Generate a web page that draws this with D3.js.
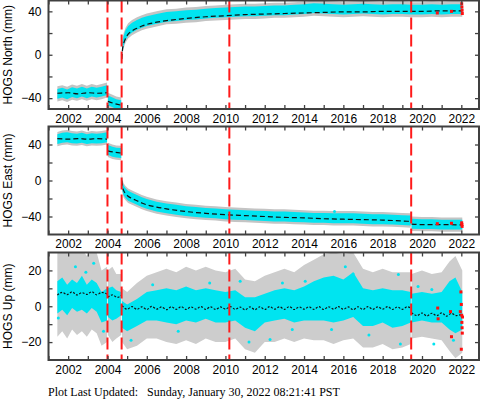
<!DOCTYPE html>
<html>
<head>
<meta charset="utf-8">
<script src="https://cdn.jsdelivr.net/npm/d3@7"></script>
<style>
body { margin: 0; background: #fff; }
svg { display: block; }
</style>
</head>
<body>
<svg id="chart" width="481" height="400"></svg>
<script>
// decimal years of the offsets (red dashed lines)
var offsetYears = [2004.0, 2004.72, 2010.2, 2019.45];
var yearTicks = [2001, 2002, 2003, 2004, 2005, 2006, 2007, 2008, 2009, 2010, 2011,
                 2012, 2013, 2014, 2015, 2016, 2017, 2018, 2019, 2020, 2021, 2022];

// North: observed positions (segments) and model, mm
var northObs = [
    [[2001.45,-36],[2001.7,-35],[2001.95,-36.5],[2002.2,-34.5],[2002.45,-35.5],[2002.7,-34],[2002.95,-35.5],
     [2003.2,-34],[2003.45,-35],[2003.7,-34],[2003.98,-32.5]],
    [[2004.02,-42],[2004.2,-43.5],[2004.45,-45.5],[2004.7,-46.5]],
    [[2004.73,-6],[2004.76,6],[2004.82,13],[2004.92,18],[2005.05,22],[2005.25,25],[2005.5,27.5],[2005.75,29.5],
     [2006.0,31],[2006.5,33],[2007.0,35],[2007.5,35.5],[2008.0,36.5],[2008.5,37],[2009.0,38],[2009.5,38.5],
     [2010.0,39],[2010.5,39.5],[2011.0,40],[2011.5,40],[2012.0,40.5],[2012.5,41],[2013.0,41],[2013.5,41.5],
     [2014.0,42],[2014.5,43],[2015.0,42.5],[2015.5,42],[2016.0,41.5],[2016.5,42],[2017.0,42.5],[2017.5,42],
     [2018.0,41.5],[2018.5,42],[2019.0,42],[2019.5,41.5],[2020.0,41.5],[2020.5,42],[2021.0,41.5],[2021.5,42],
     [2022.05,42]]
];
var northModel = [
    [[2001.45,-35.5],[2002.0,-35],[2002.5,-36],[2003.0,-35],[2003.5,-35.5],[2003.98,-35]],
    [[2004.02,-43],[2004.35,-45],[2004.7,-46.5]],
    [[2004.73,-4],[2004.76,4],[2004.82,10],[2004.92,15],[2005.05,19],[2005.25,22],[2005.5,24.5],[2005.75,26.5],
     [2006.0,28],[2006.5,30],[2007.0,31.5],[2007.5,32.5],[2008.0,33.5],[2009.0,35],[2010.0,36],[2011.0,37],
     [2012.0,37.5],[2013.0,38],[2014.0,38.5],[2015.0,39],[2016.0,39.5],[2017.0,39.5],[2018.0,40],[2019.0,40],
     [2020.0,40],[2021.0,40.5],[2022.05,40.5]]
];
var northCyanErr = 4.5, northGrayErr = 7;
var northRed = [[2020.78,38.5],[2021.5,40],[2022.02,47],[2022.03,44],[2022.04,41],[2022.05,38]];
var northStray = [];

// East
var eastObs = [
    [[2001.45,46],[2001.7,47.5],[2001.95,48],[2002.2,47],[2002.45,46.5],[2002.7,47.5],[2002.95,46],
     [2003.2,47],[2003.45,46.5],[2003.7,47],[2003.98,48]],
    [[2004.02,34],[2004.25,32],[2004.45,31],[2004.7,30.5]],
    [[2004.73,1],[2004.76,-6],[2004.82,-11],[2004.92,-14],[2005.05,-17],[2005.25,-19],[2005.5,-21.5],[2005.75,-24],
     [2006.0,-26],[2006.5,-29],[2007.0,-31],[2007.5,-32.5],[2008.0,-34],[2008.5,-35],[2009.0,-36],[2009.5,-36.5],
     [2010.0,-37.5],[2010.5,-38],[2011.0,-38.5],[2011.5,-39],[2012.0,-39.5],[2012.5,-40],[2013.0,-40],[2013.5,-40.5],
     [2014.0,-41],[2014.5,-41.5],[2015.0,-41.5],[2015.5,-42],[2016.0,-42],[2016.5,-42],[2017.0,-42.5],[2017.5,-43],
     [2018.0,-43],[2018.5,-43.5],[2019.0,-44],[2019.43,-44.5]],
    [[2019.47,-48],[2020.0,-48.5],[2020.5,-48.5],[2021.0,-49],[2021.5,-49],[2022.05,-49]]
];
var eastModel = [
    [[2001.45,46.5],[2002.0,46],[2002.5,46.5],[2003.0,46],[2003.5,46.5],[2003.98,46]],
    [[2004.02,33],[2004.35,31.5],[2004.7,30.5]],
    [[2004.73,0],[2004.76,-6],[2004.82,-11],[2004.92,-14.5],[2005.05,-17.5],[2005.25,-20],[2005.5,-22.5],
     [2005.75,-25],[2006.0,-27],[2006.5,-29.5],[2007.0,-31.5],[2008.0,-34.5],[2009.0,-36.5],[2010.0,-38],
     [2011.0,-39],[2012.0,-40],[2013.0,-41],[2014.0,-41.5],[2015.0,-42.5],[2016.0,-43],[2017.0,-43.5],
     [2018.0,-44],[2019.0,-45],[2019.43,-45.5]],
    [[2019.47,-48.5],[2020.0,-49],[2021.0,-49],[2022.05,-49.5]]
];
var eastCyanErr = 5.5, eastGrayErr = 8;
var eastRed = [[2020.78,-48],[2021.5,-47.5],[2022.02,-47],[2022.03,-49],[2022.04,-51]];
var eastStray = [[2015.55,-34.5]];

// Up: spread of the daily solutions, rows of [year, grayLo, cyanLo, cyanHi, grayHi]
var upSpread = [
    [[2001.45,-17,-4,14,32],[2001.7,-14,-2,16,32],[2001.95,-18,-5,12,30],[2002.2,-13,-1,15,32],
     [2002.45,-16,-3,13,32],[2002.7,-14,-2,17,32],[2002.95,-17,-4,12,28],[2003.2,-13,-1,15,32],
     [2003.45,-15,-3,13,30],[2003.7,-22,-9,8,20],[2003.98,-20,-8,10,22]],
    [[2004.02,-16,-6,10,20],[2004.25,-20,-8,11,22],[2004.45,-18,-7,9,18],[2004.7,-16,-5,8,18]],
    [[2004.74,-20,-12,3,10],[2005.0,-24,-14,1,8],[2005.5,-22,-11,4,13],[2006.0,-18,-8,8,17],
     [2006.5,-18,-8,9,19],[2007.0,-20,-9,10,21],[2007.5,-21,-10,9,19],[2008.0,-19,-8,11,22],
     [2008.5,-21,-9,9,20],[2009.0,-18,-7,10,22],[2009.5,-20,-9,9,20],[2010.0,-20,-9,8,19],
     [2010.5,-18,-8,9,21],[2011.0,-24,-12,5,15],[2011.5,-26,-14,5,14],[2012.0,-20,-9,7,17],
     [2012.5,-20,-8,9,19],[2013.0,-18,-7,10,21],[2013.5,-20,-9,9,19],[2014.0,-18,-8,11,23],
     [2014.5,-19,-8,14,26],[2015.0,-19,-8,16,29],[2015.5,-21,-9,17,30],[2016.0,-19,-8,15,29],
     [2016.5,-18,-6,19,30],[2017.0,-23,-11,10,21],[2017.5,-23,-11,9,19],[2018.0,-21,-9,10,21],
     [2018.5,-24,-12,9,19],[2019.0,-23,-11,9,19],[2019.43,-21,-9,8,19]],
    [[2019.47,-18,-9,7,18],[2020.0,-17,-8,8,20],[2020.5,-18,-9,7,18],[2021.0,-19,-9,8,19],
     [2021.4,-25,-13,14,25],[2021.7,-29,-15,16,28],[2022.05,-26,-13,8,20]]
];
var upModel = [
    [[2001.45,6.2],[2001.7,7.8],[2001.95,6.5],[2002.2,8.0],[2002.45,6.3],[2002.7,7.6],[2002.95,6.6],
     [2003.2,8.1],[2003.45,6.4],[2003.7,7.7],[2003.98,6.8]],
    [[2004.02,5.0],[2004.25,6.3],[2004.5,5.0],[2004.7,6.0]],
    [[2004.74,0.3],[2005.0,-1.6],[2005.25,-0.2],[2005.5,-1.7],[2005.75,-0.3],[2006.0,-1.8],[2006.25,-0.1],
     [2006.5,-1.6],[2006.75,-0.4],[2007.0,-1.9],[2007.25,-0.3],[2007.5,-1.7],[2007.75,-0.2],[2008.0,-1.8],
     [2008.25,-0.4],[2008.5,-1.6],[2008.75,-0.2],[2009.0,-1.7],[2009.25,-0.3],[2009.5,-1.8],[2009.75,-0.4],
     [2010.0,-1.6],[2010.25,-0.2],[2010.5,-1.7],[2010.75,-0.5],[2011.0,-2.0],[2011.25,-0.4],[2011.5,-1.9],
     [2011.75,-0.3],[2012.0,-1.8],[2012.25,-0.2],[2012.5,-1.6],[2012.75,-0.3],[2013.0,-1.7],[2013.25,-0.2],
     [2013.5,-1.8],[2013.75,-0.4],[2014.0,-1.6],[2014.25,-0.3],[2014.5,-1.7],[2014.75,-0.2],[2015.0,-1.8],
     [2015.25,-0.3],[2015.5,-1.6],[2015.75,-0.2],[2016.0,-1.7],[2016.25,-0.4],[2016.5,-1.9],[2016.75,-0.3],
     [2017.0,-1.8],[2017.25,-0.2],[2017.5,-1.7],[2017.75,-0.3],[2018.0,-1.6],[2018.25,-0.2],[2018.5,-1.8],
     [2018.75,-0.4],[2019.0,-1.7],[2019.25,-0.3],[2019.43,-1.2]],
    [[2019.47,-3.6],[2019.75,-5.2],[2020.0,-3.8],[2020.25,-5.4],[2020.5,-3.9],[2020.75,-5.3],[2021.0,-3.7],
     [2021.25,-5.5],[2021.5,-4.0],[2021.75,-5.2],[2022.05,-4.4]]
];
var upRed = [[2020.8,-1],[2020.82,-7],[2021.45,-3],[2021.5,-17],[2021.95,-3],[2021.98,8],[2022.0,1],
             [2022.0,-24],[2022.02,-5],[2022.03,-9],[2022.04,-12],[2022.05,-15],[2022.06,-6]];
var upStray = [[2002.37,22],[2001.5,-6.5],[2003.3,24],[2005.2,-19],[2010.75,14],[2012.27,-18.6],
               [2012.9,13],[2014.06,14],[2015.4,-13],[2016.5,18],[2018.8,17.7],[2018.9,-21],
               [2020.5,9.3],[2020.6,-21],[2021.6,-19],[2002.9,19],[2003.8,-14],[2006.3,12],
               [2007.6,-14],[2009.2,13],[2011.2,-20],[2013.4,-13],[2016.1,22],[2017.3,-16],[2019.8,11]];

var footerText = "Plot Last Updated:   Sunday, January 30, 2022 08:21:41 PST";

var svg = d3.select("#chart");
var font = "'Liberation Sans', Arial, Helvetica, sans-serif";
var frameColor = "#404040";

var x = d3.scaleLinear().domain([2001, 2022.9]).range([48.5, 479]);

var panels = [
    { id: "n", label: "HOGS North (mm)", domain: [-50, 50], range: [109, 0.5], step: 20, labelEvery: 40,
      obs: northObs, model: northModel, cyanErr: northCyanErr, grayErr: northGrayErr,
      red: northRed, stray: northStray, dash: "5,3" },
    { id: "e", label: "HOGS East (mm)", domain: [-60, 60], range: [234.5, 126.5], step: 20, labelEvery: 40,
      obs: eastObs, model: eastModel, cyanErr: eastCyanErr, grayErr: eastGrayErr,
      red: eastRed, stray: eastStray, dash: "5,3" },
    { id: "u", label: "HOGS Up (mm)", domain: [-30, 30], range: [360, 252.5], step: 10, labelEvery: 20,
      spread: upSpread, model: upModel, red: upRed, stray: upStray, dash: "2,1.6" }
];

panels.forEach(function(p) {
    var y = d3.scaleLinear().domain(p.domain).range(p.range);
    var top = p.range[1], bottom = p.range[0];
    var left = x.range()[0], right = x.range()[1];

    svg.append("clipPath").attr("id", "clip-" + p.id)
        .append("rect")
        .attr("x", left).attr("y", top)
        .attr("width", right - left).attr("height", bottom - top);

    var g = svg.append("g").attr("clip-path", "url(#clip-" + p.id + ")");

    if (p.obs) {
        var band = function(err) {
            return d3.area()
                .x(function(d) { return x(d[0]); })
                .y0(function(d) { return y(d[1] - err); })
                .y1(function(d) { return y(d[1] + err); });
        };
        g.selectAll("path.gray").data(p.obs).join("path")
            .attr("class", "gray")
            .attr("d", band(p.grayErr))
            .attr("fill", "#c4c4c4");
        g.selectAll("path.cyan").data(p.obs).join("path")
            .attr("class", "cyan")
            .attr("d", band(p.cyanErr))
            .attr("fill", "#00e4f0");
    } else {
        var spreadArea = function(lo, hi) {
            return d3.area()
                .x(function(d) { return x(d[0]); })
                .y0(function(d) { return y(d[lo]); })
                .y1(function(d) { return y(d[hi]); });
        };
        g.selectAll("path.gray").data(p.spread).join("path")
            .attr("class", "gray")
            .attr("d", spreadArea(1, 4))
            .attr("fill", "#cdcdcd");
        g.selectAll("path.cyan").data(p.spread).join("path")
            .attr("class", "cyan")
            .attr("d", spreadArea(2, 3))
            .attr("fill", "#00e4f0");
    }

    g.selectAll("circle.stray").data(p.stray).join("circle")
        .attr("class", "stray")
        .attr("cx", function(d) { return x(d[0]); })
        .attr("cy", function(d) { return y(d[1]); })
        .attr("r", 1.5)
        .attr("fill", "#00e4f0");

    var modelLine = d3.line()
        .x(function(d) { return x(d[0]); })
        .y(function(d) { return y(d[1]); })
        .curve(d3.curveMonotoneX);
    g.selectAll("path.model").data(p.model).join("path")
        .attr("class", "model")
        .attr("d", modelLine)
        .attr("fill", "none")
        .attr("stroke", "#111")
        .attr("stroke-width", 1.2)
        .attr("stroke-dasharray", p.dash);

    g.selectAll("rect.red").data(p.red).join("rect")
        .attr("class", "red")
        .attr("x", function(d) { return x(d[0]) - 1.5; })
        .attr("y", function(d) { return y(d[1]) - 1.5; })
        .attr("width", 3).attr("height", 3)
        .attr("fill", "#ff1010");

    // offsets
    g.selectAll("line.offset").data(offsetYears).join("line")
        .attr("class", "offset")
        .attr("x1", function(d) { return x(d); })
        .attr("x2", function(d) { return x(d); })
        .attr("y1", top).attr("y2", bottom)
        .attr("stroke", "#ff1a1a")
        .attr("stroke-width", 2)
        .attr("stroke-dasharray", "12,5");

    // axes, ticks point into the frame
    var yTicks = d3.range(Math.ceil((p.domain[0] + 0.01) / p.step) * p.step, p.domain[1], p.step);
    var fmt = function(v) { return v % p.labelEvery === 0 ? d3.format("d")(v) : ""; };
    var xfmt = function(v) { return v % 2 === 0 ? String(v) : ""; };

    var axes = [
        svg.append("g").attr("transform", "translate(" + left + ",0)")
            .call(d3.axisLeft(y).tickValues(yTicks).tickFormat(fmt).tickSize(-4).tickPadding(7)),
        svg.append("g").attr("transform", "translate(" + right + ",0)")
            .call(d3.axisRight(y).tickValues(yTicks).tickFormat("").tickSize(-4)),
        svg.append("g").attr("transform", "translate(0," + bottom + ")")
            .call(d3.axisBottom(x).tickValues(yearTicks).tickFormat(xfmt).tickSize(-4).tickPadding(5)),
        svg.append("g").attr("transform", "translate(0," + top + ")")
            .call(d3.axisTop(x).tickValues(yearTicks).tickFormat("").tickSize(-4))
    ];
    axes.forEach(function(a) {
        a.select(".domain").remove();
        a.selectAll(".tick line").attr("stroke", frameColor).attr("stroke-width", 1.3);
        a.selectAll(".tick text").attr("fill", "#000")
            .style("font-family", font).style("font-size", "12px");
    });

    svg.append("rect")
        .attr("x", left).attr("y", top)
        .attr("width", right - left).attr("height", bottom - top)
        .attr("fill", "none")
        .attr("stroke", frameColor)
        .attr("stroke-width", 2);

    svg.append("text")
        .attr("transform", "translate(12," + ((top + bottom) / 2) + ") rotate(-90)")
        .attr("text-anchor", "middle")
        .style("font-family", font)
        .style("font-size", "12px")
        .text(p.label);
});

svg.append("text")
    .attr("x", 48)
    .attr("y", 396)
    .attr("xml:space", "preserve")
    .style("white-space", "pre")
    .style("font-family", "'Liberation Serif', 'Times New Roman', serif")
    .style("font-size", "12px")
    .text(footerText);
</script>
</body>
</html>
